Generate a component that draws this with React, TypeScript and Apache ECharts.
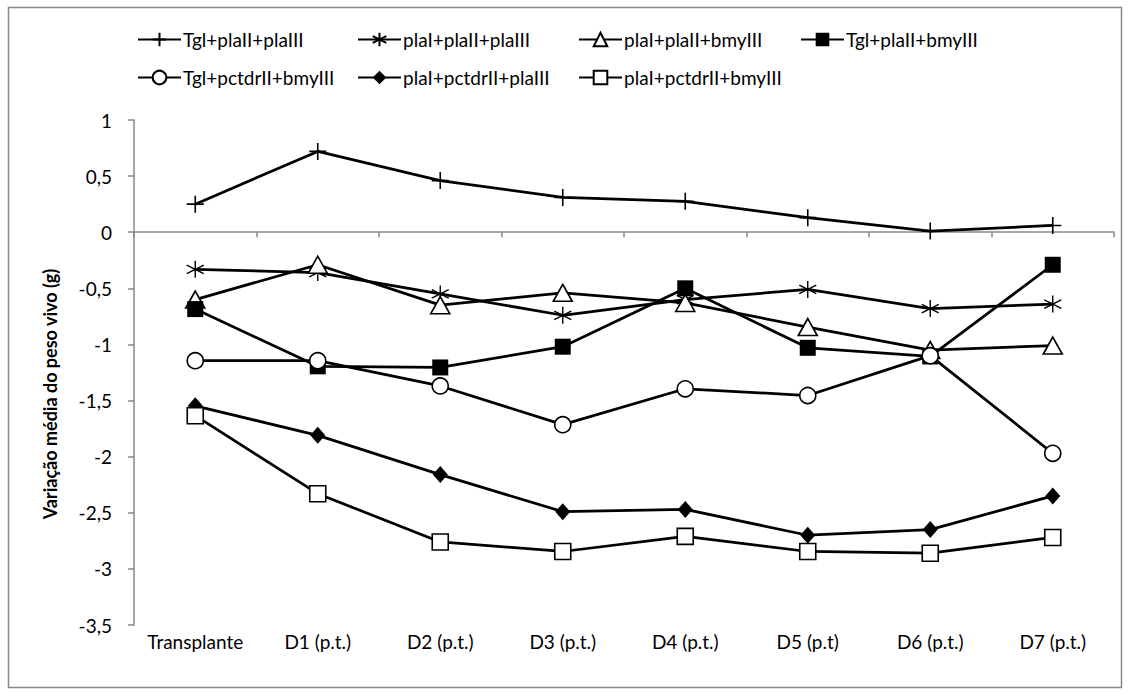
import React, { useEffect, useRef } from "react";
import * as echarts from "echarts";

const categories = ["Transplante", "D1 (p.t.)", "D2 (p.t.)", "D3 (p.t.)", "D4 (p.t.)", "D5 (p.t)", "D6 (p.t.)", "D7 (p.t.)"];

const seriesNames = [
  "Tgl+plaII+plaIII",
  "plaI+plaII+plaIII",
  "plaI+plaII+bmyIII",
  "Tgl+plaII+bmyIII",
  "Tgl+pctdrII+bmyIII",
  "plaI+pctdrII+plaIII",
  "plaI+pctdrII+bmyIII",
];

const tglPlaIIPlaIII = [0.25, 0.72, 0.46, 0.31, 0.275, 0.13, 0.01, 0.06];
const plaIPlaIIPlaIII = [-0.33, -0.36, -0.55, -0.74, -0.6, -0.51, -0.68, -0.64];
const plaIPlaIIBmyIII = [-0.6, -0.29, -0.65, -0.54, -0.63, -0.845, -1.05, -1.01];
const tglPlaIIBmyIII = [-0.685, -1.195, -1.205, -1.02, -0.5, -1.03, -1.107, -0.29];
const tglPctdrIIBmyIII = [-1.145, -1.145, -1.37, -1.715, -1.395, -1.455, -1.1, -1.97];
const plaIPctdrIIPlaIII = [-1.547, -1.81, -2.16, -2.49, -2.47, -2.7, -2.65, -2.35];
const plaIPctdrIIBmyIII = [-1.635, -2.33, -2.76, -2.845, -2.71, -2.845, -2.86, -2.72];

const seriesValues = [
  tglPlaIIPlaIII,
  plaIPlaIIPlaIII,
  plaIPlaIIBmyIII,
  tglPlaIIBmyIII,
  tglPctdrIIBmyIII,
  plaIPctdrIIPlaIII,
  plaIPctdrIIBmyIII,
];

const yMin = -3.5;
const yMax = 1;
const yStep = 0.5;
const yAxisTitle = "Variação média do peso vivo (g)";

const FONT = "Lato, 'Open Sans', sans-serif";
const FS = 19;

const PLUS = "path://M0,8 L16,8 M8,0 L8,16";
const STAR = "path://M8,0 L8,16 M1,4 L15,12 M1,12 L15,4";

const markerStyles = [
  { symbol: PLUS, symbolSize: 17, itemStyle: { color: "transparent", borderColor: "#000", borderWidth: 1.6 } },
  { symbol: STAR, symbolSize: 17, itemStyle: { color: "transparent", borderColor: "#000", borderWidth: 1.4 } },
  { symbol: "triangle", symbolSize: [19, 17], itemStyle: { color: "#fff", borderColor: "#000", borderWidth: 1.6 } },
  { symbol: "rect", symbolSize: 16, itemStyle: { color: "#000", borderColor: "#000", borderWidth: 0 } },
  { symbol: "circle", symbolSize: 16, itemStyle: { color: "#fff", borderColor: "#000", borderWidth: 1.6 } },
  { symbol: "diamond", symbolSize: [15, 17], itemStyle: { color: "#000", borderColor: "#000", borderWidth: 0 } },
  { symbol: "rect", symbolSize: 16, itemStyle: { color: "#fff", borderColor: "#000", borderWidth: 1.6 } },
];

const legendPos = [
  { left: 137, top: 30 },
  { left: 357, top: 30 },
  { left: 578, top: 30 },
  { left: 800, top: 30 },
  { left: 137, top: 68 },
  { left: 357, top: 68 },
  { left: 578, top: 68 },
];

export default function App() {
  const ref = useRef<HTMLDivElement>(null);

  useEffect(() => {
    if (!ref.current) return;
    const chart = echarts.init(ref.current, null, { renderer: "svg" });

    const series = seriesNames.map((name, i) => ({
      name,
      type: "line",
      data: seriesValues[i],
      xAxisIndex: 0,
      yAxisIndex: 0,
      symbol: markerStyles[i].symbol,
      symbolSize: markerStyles[i].symbolSize,
      showSymbol: true,
      itemStyle: markerStyles[i].itemStyle,
      lineStyle: { color: "#000", width: 2.75 },
      emphasis: { disabled: true },
      z: 2 + i,
    }));

    const legends = seriesNames.map((name, i) => ({
      data: [name],
      left: legendPos[i].left,
      top: legendPos[i].top,
      orient: "horizontal",
      itemWidth: 43,
      itemHeight: 17,
      itemGap: 0,
      padding: 0,
      selectedMode: false,
      textStyle: { fontFamily: FONT, fontSize: FS, color: "#000", padding: [0, 0, 0, -3] },
    }));

    chart.setOption({
      animation: false,
      color: ["#000"],
      textStyle: { fontFamily: FONT },
      legend: legends,
      grid: { left: 134, right: 17, top: 120, bottom: 72, containLabel: false },
      xAxis: [
        {
          type: "category",
          data: categories,
          boundaryGap: true,
          axisLine: { show: true, onZero: true, lineStyle: { color: "#898989", width: 1.5 } },
          axisTick: { show: true, length: 5, interval: 0, lineStyle: { color: "#898989", width: 1.5 } },
          axisLabel: { show: false },
          splitLine: { show: false },
        },
        {
          type: "category",
          data: categories,
          position: "bottom",
          boundaryGap: true,
          axisLine: { show: false, onZero: false },
          axisTick: { show: false },
          axisLabel: { show: true, interval: 0, margin: 7, fontFamily: FONT, fontSize: FS, color: "#000" },
          splitLine: { show: false },
        },
      ],
      yAxis: {
        type: "value",
        min: yMin,
        max: yMax,
        interval: yStep,
        axisLine: { show: true, lineStyle: { color: "#898989", width: 1.5 } },
        axisTick: { show: true, length: 6, lineStyle: { color: "#898989", width: 1.5 } },
        axisLabel: {
          margin: 22,
          fontFamily: FONT,
          fontSize: FS,
          color: "#000",
          formatter: (v: number) => String(v).replace(".", ","),
        },
        splitLine: { show: false },
      },
      graphic: [
        {
          type: "rect",
          silent: true,
          shape: { x: 8.5, y: 7.5, width: 1113, height: 680 },
          style: { fill: "none", stroke: "#898989", lineWidth: 1.5 },
          z: 0,
        },
        {
          type: "text",
          silent: true,
          x: 50,
          y: 394,
          rotation: Math.PI / 2,
          style: {
            text: yAxisTitle,
            fontFamily: FONT,
            fontSize: 18,
            fontWeight: "bold",
            fill: "#000",
            align: "center",
            verticalAlign: "middle",
          },
        },
      ],
      series,
    });

    return () => chart.dispose();
  }, []);

  return (
    <div
      ref={ref}
      style={{ position: "absolute", left: 0, top: 0, width: 1131, height: 697, background: "#fff" }}
    />
  );
}
